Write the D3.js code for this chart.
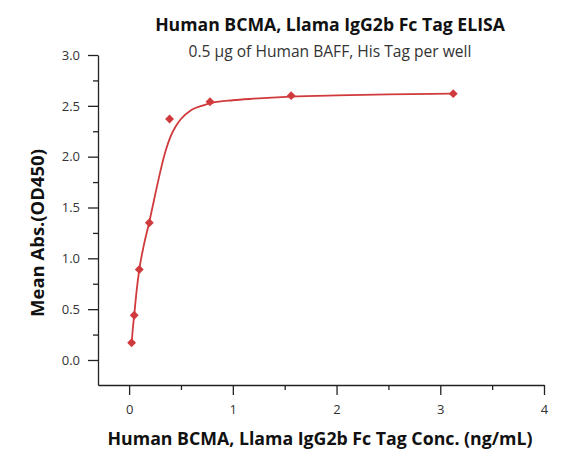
<!DOCTYPE html>
<html>
<head>
<meta charset="utf-8">
<script src="https://cdn.jsdelivr.net/npm/d3@7"></script>
<style>
  body { margin: 0; background: #fff; }
  svg { font-family: "Open Sans", sans-serif; }
</style>
</head>
<body>
<svg width="581" height="470"></svg>
<script>
// measured points (conc in ng/mL, OD450)
const conc = [0.024, 0.049, 0.098, 0.195, 0.39, 0.78, 1.5625, 3.125]
const absorb = [0.17, 0.44, 0.89, 1.35, 2.37, 2.54, 2.60, 2.62]

// fitted curve
const curveX = [0.024, 0.035, 0.049, 0.07, 0.098, 0.14, 0.195, 0.25, 0.30, 0.35, 0.40, 0.45, 0.50, 0.60, 0.70, 0.80, 1.0, 1.2, 1.56, 2.0, 2.5, 3.125]
const curveY = [0.16, 0.30, 0.44, 0.66, 0.89, 1.12, 1.36, 1.62, 1.85, 2.05, 2.20, 2.30, 2.37, 2.46, 2.50, 2.53, 2.555, 2.57, 2.59, 2.603, 2.613, 2.62]

const xTicks = [0, 1, 2, 3, 4]
const xMinor = [0.5, 1.5, 2.5, 3.5]
const yTicks = [0, 0.5, 1.0, 1.5, 2.0, 2.5, 3.0]
const yMinor = [0.25, 0.75, 1.25, 1.75, 2.25, 2.75]

const red = "#d03a3c"

const svg = d3.select("svg")

// plot area
const plotLeft = 98, plotRight = 544, plotTop = 55, plotBottom = 385

const xScale = d3.scaleLinear().domain([-0.3, 4]).range([plotLeft, plotRight])
const yScale = d3.scaleLinear().domain([-0.246, 3.0]).range([plotBottom, plotTop])

// minor ticks first, then major on top
svg.append("g")
   .attr("transform", "translate(0," + plotBottom + ")")
   .call(d3.axisBottom(xScale).tickValues(xMinor).tickSize(5).tickFormat(""))
   .call(g => g.select(".domain").remove())

svg.append("g")
   .attr("transform", "translate(" + plotLeft + ",0)")
   .call(d3.axisLeft(yScale).tickValues(yMinor).tickSize(5).tickFormat(""))
   .call(g => g.select(".domain").remove())

svg.append("g")
   .attr("class", "xaxis")
   .attr("transform", "translate(0," + plotBottom + ")")
   .call(d3.axisBottom(xScale).tickValues(xTicks).tickSize(10).tickSizeOuter(0).tickPadding(10).tickFormat(d3.format("d")))

svg.append("g")
   .attr("class", "yaxis")
   .attr("transform", "translate(" + plotLeft + ",0)")
   .call(d3.axisLeft(yScale).tickValues(yTicks).tickSize(10).tickSizeOuter(0).tickPadding(8).tickFormat(d3.format(".1f")))

svg.selectAll(".xaxis, .yaxis").selectAll("text")
   .style("font-family", "'Open Sans', sans-serif")
   .style("font-size", "13px")
   .attr("fill", "#333")

svg.selectAll(".tick line, .domain").attr("stroke", "#222").attr("stroke-width", 1.3)

// fitted line
const line = d3.line()
  .x((d, i) => xScale(curveX[i]))
  .y(d => yScale(d))
  .curve(d3.curveMonotoneX)

svg.append("path")
   .datum(curveY)
   .attr("d", line)
   .attr("fill", "none")
   .attr("stroke", red)
   .attr("stroke-width", 1.8)

// diamond markers
svg.selectAll(".pt")
   .data(conc)
   .enter()
   .append("path")
     .attr("class", "pt")
     .attr("d", d3.symbol().type(d3.symbolDiamond2).size(50))
     .attr("transform", (d, i) => "translate(" + xScale(d) + "," + yScale(absorb[i]) + ")")
     .attr("fill", red)

// text helper that squeezes a label to a target width
function label(txt, x, y, size, weight, width, color, rotate) {
  const t = svg.append("text")
    .attr("text-anchor", "middle")
    .attr("font-size", size)
    .attr("font-weight", weight)
    .attr("fill", color)
    .text(txt)
  const w = t.node().getComputedTextLength()
  t.attr("font-size", size * width / w)
  if (rotate) t.attr("transform", "translate(" + x + "," + y + ") rotate(-90)")
  else t.attr("x", x).attr("y", y)
}

label("Human BCMA, Llama IgG2b Fc Tag ELISA", 330, 31, 16, "bold", 350, "#111")
label("0.5 μg of Human BAFF, His Tag per well", 330, 57, 13, "normal", 283, "#333")
label("Human BCMA, Llama IgG2b Fc Tag Conc. (ng/mL)", 320, 445, 16, "bold", 425, "#111")
label("Mean Abs.(OD450)", 44, 233, 16, "bold", 168, "#111", true)
</script>
</body>
</html>
